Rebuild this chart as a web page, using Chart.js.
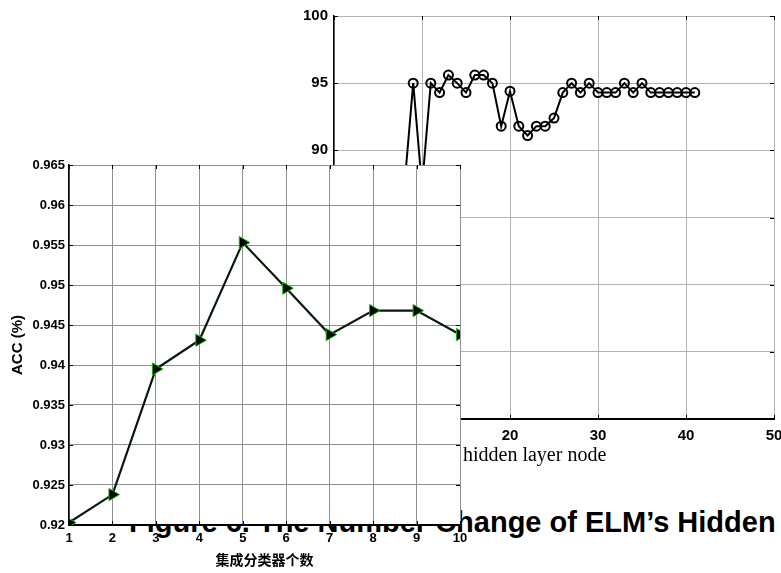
<!DOCTYPE html>
<html>
<head>
<meta charset="utf-8">
<script src="https://cdn.jsdelivr.net/npm/chart.js@4.4.1/dist/chart.umd.min.js"></script>
<style>
  html, body { margin: 0; padding: 0; background: #fff; }
  body { width: 781px; height: 573px; overflow: hidden; position: relative; }
  #backCv { position: absolute; left: 290px; top: 1px; z-index: 1; }
  #frontCv { position: absolute; left: 0; top: 150px; z-index: 3; }
  #caption { position: absolute; left: 129px; top: 508px; z-index: 2; font: bold 29px Arial, "Liberation Sans", sans-serif; line-height: 29px; white-space: nowrap; color: #000; }
  #nodeLbl { position: absolute; left: 463px; top: 444px; z-index: 2; font: 20px "Times New Roman", "Liberation Serif", serif; line-height: 20px; white-space: nowrap; color: #000; }
</style>
</head>
<body>
<canvas id="backCv" width="511" height="448"></canvas>
<div id="caption">Figure 6. The Number Change of ELM’s Hidden</div>
<div id="nodeLbl">hidden layer node</div>
<canvas id="frontCv" width="475" height="423"></canvas>
<script>
// back figure: accuracy vs hidden layer nodes (partly covered)
const backNodes = [1, 2, 3, 4, 5, 6, 7, 8, 9, 10, 11, 12, 13, 14, 15, 16, 17, 18, 19, 20, 21,
  22, 23, 24, 25, 26, 27, 28, 29, 30, 31, 32, 33, 34, 35, 36, 37, 38, 39, 40, 41];
const backAcc = [80.6, 83.4, 85.2, 84.5, 86.6, 85.9, 86.6, 87.3, 95.0, 87.3, 95.0, 94.3, 95.6, 95.0, 94.3, 95.6, 95.6, 95.0, 91.8, 94.4, 91.8,
  91.1, 91.8, 91.8, 92.4, 94.3, 95.0, 94.3, 95.0, 94.3, 94.3, 94.3, 95.0, 94.3, 95.0, 94.3, 94.3, 94.3, 94.3, 94.3, 94.3];
const backXTicks = [0, 10, 20, 30, 40, 50];
const backYTicks = [70, 75, 80, 85, 90, 95, 100];

// front figure: ACC vs number of ensemble classifiers
const ensembleCount = [1, 2, 3, 4, 5, 6, 7, 8, 9, 10];
const ensembleAcc = [0.9203, 0.9238, 0.9395, 0.9431, 0.9553, 0.9496, 0.9438, 0.9468, 0.9468, 0.9438];
const frontXTicks = [1, 2, 3, 4, 5, 6, 7, 8, 9, 10];
const frontYTicks = [0.92, 0.925, 0.93, 0.935, 0.94, 0.945, 0.95, 0.955, 0.96, 0.965];

const SANS = 'Arial, "Liberation Sans", sans-serif';

// matlab style tick marks pointing into the box
const inwardTicks = {
  id: 'inwardTicks',
  afterDatasetsDraw(chart, args, opts) {
    const { ctx, chartArea: a, scales: { x, y } } = chart;
    const len = opts.len || 5;
    ctx.save();
    ctx.strokeStyle = '#000';
    ctx.lineWidth = 1;
    ctx.beginPath();
    x.ticks.forEach((t) => {
      const px = Math.round(x.getPixelForValue(t.value)) + 0.5;
      ctx.moveTo(px, a.bottom); ctx.lineTo(px, a.bottom - len);
      ctx.moveTo(px, a.top); ctx.lineTo(px, a.top + len);
    });
    y.ticks.forEach((t) => {
      const py = Math.round(y.getPixelForValue(t.value)) + 0.5;
      ctx.moveTo(a.left, py); ctx.lineTo(a.left + len, py);
      ctx.moveTo(a.right, py); ctx.lineTo(a.right - len, py);
    });
    ctx.stroke();
    ctx.restore();
  },
};

// front plot area is opaque, everything else transparent
const plotFill = {
  id: 'plotFill',
  beforeDraw(chart) {
    const { ctx, chartArea: a } = chart;
    ctx.save();
    ctx.fillStyle = '#fff';
    ctx.fillRect(a.left, a.top, a.right - a.left, a.bottom - a.top);
    ctx.restore();
  },
};

new Chart(document.getElementById('backCv'), {
  type: 'line',
  data: {
    datasets: [{
      data: backNodes.map((n, i) => ({ x: n, y: backAcc[i] })),
      borderColor: '#000',
      borderWidth: 2,
      pointStyle: 'circle',
      pointRadius: 4.5,
      pointBorderWidth: 2,
      pointBorderColor: '#000',
      pointBackgroundColor: 'transparent',
      tension: 0,
    }],
  },
  options: {
    responsive: false, animation: false,
    layout: { padding: { top: 6, right: 27, left: 0, bottom: 0 } },
    plugins: { legend: { display: false }, tooltip: { enabled: false }, inwardTicks: { len: 4 } },
    scales: {
      x: {
        type: 'linear', min: 0, max: 50,
        afterBuildTicks: (s) => { s.ticks = backXTicks.map((v) => ({ value: v })); },
        afterFit: (s) => { s.height = 30; },
        grid: { color: '#b4b4b4', lineWidth: 1, drawTicks: false },
        border: { color: '#000', width: 2 },
        ticks: { color: '#000', padding: 8, font: { family: SANS, size: 15, weight: 'bold' } },
      },
      y: {
        min: 70, max: 100,
        afterBuildTicks: (s) => { s.ticks = backYTicks.map((v) => ({ value: v })); },
        afterFit: (s) => { s.width = 44; },
        grid: { color: '#b4b4b4', lineWidth: 1, drawTicks: false },
        border: { color: '#000', width: 1.5 },
        ticks: { color: '#000', padding: 6, font: { family: SANS, size: 15, weight: 'bold' } },
      },
    },
  },
  plugins: [inwardTicks],
});

new Chart(document.getElementById('frontCv'), {
  type: 'line',
  data: {
    datasets: [{
      data: ensembleCount.map((n, i) => ({ x: n, y: ensembleAcc[i] })),
      borderColor: '#081808',
      borderWidth: 2.2,
      pointStyle: 'triangle',
      rotation: 90,
      pointRadius: 7,
      pointBorderWidth: 1,
      pointBorderColor: '#00c000',
      pointBackgroundColor: '#000',
      tension: 0,
    }],
  },
  options: {
    responsive: false, animation: false,
    layout: { padding: { top: 15, right: 15, left: 0, bottom: 0 } },
    plugins: { legend: { display: false }, tooltip: { enabled: false }, inwardTicks: { len: 4 } },
    scales: {
      x: {
        type: 'linear', min: 1, max: 10,
        afterBuildTicks: (s) => { s.ticks = frontXTicks.map((v) => ({ value: v })); },
        afterFit: (s) => { s.height = 48; },
        grid: { color: '#909090', lineWidth: 1, drawTicks: false },
        border: { color: '#000', width: 2 },
        ticks: { color: '#000', padding: 6, font: { family: SANS, size: 13, weight: 'bold' } },
        title: {
          display: true, text: '集成分类器个数', color: '#000',
          padding: { top: 0, bottom: 5 },
          font: { family: '"Noto Sans CJK SC", sans-serif', size: 14, weight: 'bold' },
        },
      },
      y: {
        min: 0.92, max: 0.965,
        afterBuildTicks: (s) => { s.ticks = frontYTicks.map((v) => ({ value: v })); },
        afterFit: (s) => { s.width = 69; },
        grid: { color: '#909090', lineWidth: 1, drawTicks: false },
        border: { color: '#000', width: 1.5 },
        ticks: { color: '#000', padding: 4, font: { family: SANS, size: 13, weight: 'bold' }, callback: (v) => String(v) },
        title: {
          display: true, text: 'ACC (%)', color: '#000',
          padding: { top: 9, bottom: 0 },
          font: { family: SANS, size: 15, weight: 'bold' },
        },
      },
    },
  },
  plugins: [plotFill, inwardTicks],
});
</script>
</body>
</html>
